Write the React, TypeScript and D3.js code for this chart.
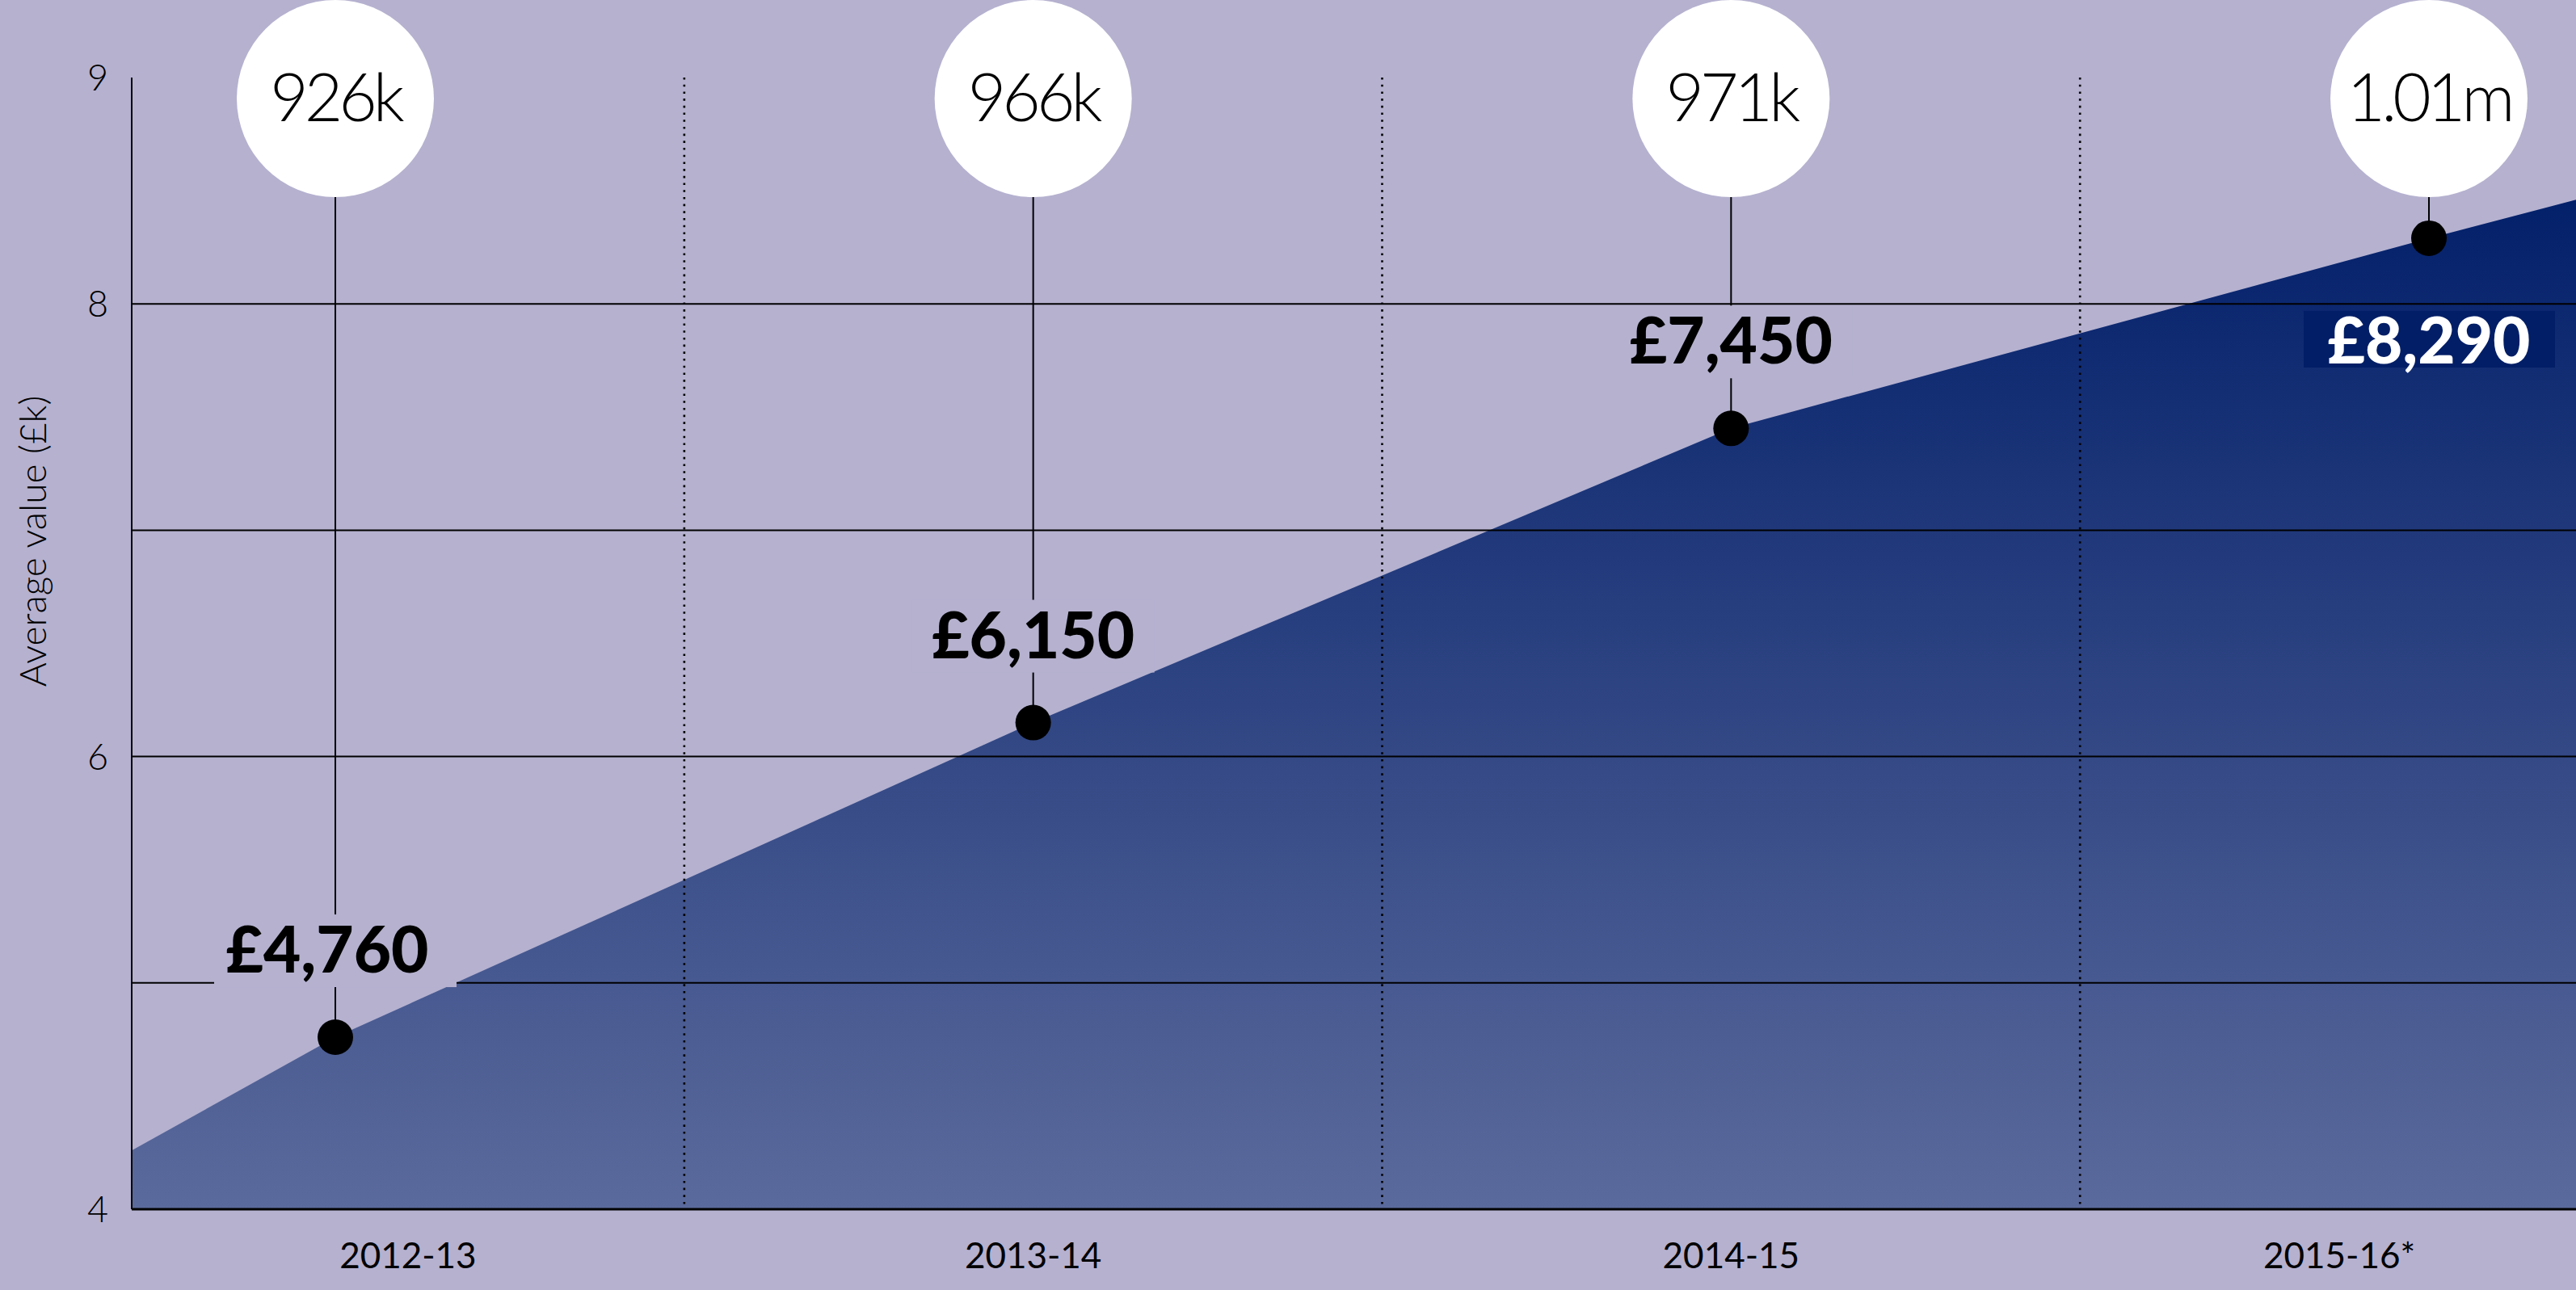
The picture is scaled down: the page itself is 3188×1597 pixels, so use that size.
import React from "react";
import * as d3 from "d3";

// data
const categories = ["2012-13", "2013-14", "2014-15", "2015-16*"];
const avgValues = [4.76, 6.15, 7.45, 8.29]; // average value, £k
const valueLabels = ["£4,760", "£6,150", "£7,450", "£8,290"];
const countLabels = ["926k", "966k", "971k", "1.01m"];
const gridValues = [5, 6, 7, 8];
const yTickLabels = [4, 6, 8, 9];
const areaEdgeValues = [4.26, 8.46]; // where the shaded area meets the left axis / right edge

const W = 3188;
const H = 1597;
const FONT = "Lato, 'Open Sans', sans-serif";
const BG = "#B5B1CF";

export default function App() {
    const margin = { left: 163, right: 0 };
    const plotRight = W - margin.right;

    const x = d3.scalePoint<string>().domain(categories).range([415, 3006]);
    const y = d3.scaleLinear().domain([4, 9]).range([1497, 96]);

    const areaPts: [number, number][] = [
        [margin.left, areaEdgeValues[0]],
        ...categories.map((c, i) => [x(c) as number, avgValues[i]] as [number, number]),
        [plotRight, areaEdgeValues[1]],
    ];
    const area = d3
        .area<[number, number]>()
        .x((d) => d[0])
        .y0(y(4))
        .y1((d) => y(d[1]));

    const mids = categories.slice(1).map((c, i) => ((x(categories[i]) as number) + (x(c) as number)) / 2);
    const bandLeft = (i: number) => (i === 0 ? margin.left : mids[i - 1]);
    const bandRight = (i: number) => (i === categories.length - 1 ? plotRight : mids[i]);

    const circleR = 122;
    const dotR = 22;
    const last = categories.length - 1;

    return (
        <svg
            width={W}
            height={H}
            style={{ position: "absolute", left: 0, top: 0, display: "block" }}
            fontFamily={FONT}
        >
            <defs>
                <linearGradient id="areaGrad" gradientUnits="userSpaceOnUse" x1="0" x2="0" y1={y(areaEdgeValues[1])} y2={y(4)}>
                    <stop offset="0%" stopColor="#03206A" />
                    <stop offset="100%" stopColor="#5B6A9C" />
                </linearGradient>
            </defs>
            <rect width={W} height={H} fill={BG} />

            <path d={area(areaPts) || ""} fill="url(#areaGrad)" />

            {/* gridlines */}
            {gridValues.map((v) => (
                <line key={"g" + v} x1={margin.left} x2={plotRight} y1={y(v)} y2={y(v)} stroke="#000" strokeWidth={2} />
            ))}

            {/* dotted year separators */}
            {mids.map((m, i) => (
                <line
                    key={"s" + i}
                    x1={m}
                    x2={m}
                    y1={y(9)}
                    y2={y(4)}
                    stroke="#000"
                    strokeWidth={2.6}
                    strokeDasharray="2.6 6.1"
                />
            ))}

            {/* axes */}
            <line x1={margin.left} x2={margin.left} y1={y(9)} y2={y(4)} stroke="#000" strokeWidth={2} />
            <line x1={margin.left} x2={plotRight} y1={y(4)} y2={y(4)} stroke="#000" strokeWidth={3} />

            {yTickLabels.map((v) => (
                <text
                    key={"t" + v}
                    x={margin.left - 29}
                    y={y(v)}
                    dy="0.36em"
                    textAnchor="end"
                    fontSize={45}
                    fontWeight={300}
                    fill="#000"
                >
                    {v}
                </text>
            ))}
            <text
                transform={`translate(57,${670}) rotate(-90)`}
                textAnchor="middle"
                fontSize={46}
                fontWeight={300}
                fill="#000"
            >
                Average value (£k)
            </text>

            {categories.map((c, i) => (
                <text
                    key={"x" + c}
                    x={(bandLeft(i) + bandRight(i)) / 2 + (i === last ? 14 : 0)}
                    y={1570}
                    textAnchor="middle"
                    fontSize={44}
                    fill="#000"
                >
                    {c}
                </text>
            ))}

            {/* leader lines */}
            {categories.map((c, i) => (
                <line
                    key={"l" + c}
                    x1={x(c)}
                    x2={x(c)}
                    y1={circleR}
                    y2={y(avgValues[i])}
                    stroke="#000"
                    strokeWidth={2}
                />
            ))}

            {/* value labels */}
            {categories.map((c, i) => {
                const cx = x(c) as number;
                const dy = y(avgValues[i]);
                if (i === last) {
                    const top = dy + 90;
                    return (
                        <g key={"v" + c}>
                            <rect x={cx - 155} y={top} width={311} height={70} fill="#021E66" />
                            <text x={cx} y={dy + 155} textAnchor="middle" fontSize={80} fontWeight={900} fill="#fff">
                                {valueLabels[i]}
                            </text>
                        </g>
                    );
                }
                const base = dy - 80;
                return (
                    <g key={"v" + c}>
                        <rect x={cx - 150} y={base - 72} width={300} height={90} fill={BG} />
                        <text x={cx - (i === 0 ? 10 : 0)} y={base} textAnchor="middle" fontSize={80} fontWeight={900} fill="#000">
                            {valueLabels[i]}
                        </text>
                    </g>
                );
            })}

            {/* count bubbles */}
            {categories.map((c, i) => (
                <g key={"c" + c}>
                    <circle cx={x(c)} cy={circleR} r={circleR} fill="#fff" />
                    <text
                        x={x(c)}
                        y={150}
                        textAnchor="middle"
                        fontSize={82}
                        fontWeight={300}
                        letterSpacing={-5}
                        fill="#000"
                    >
                        {countLabels[i]}
                    </text>
                </g>
            ))}

            {/* points */}
            {categories.map((c, i) => (
                <circle key={"d" + c} cx={x(c)} cy={y(avgValues[i])} r={dotR} fill="#000" />
            ))}
        </svg>
    );
}
